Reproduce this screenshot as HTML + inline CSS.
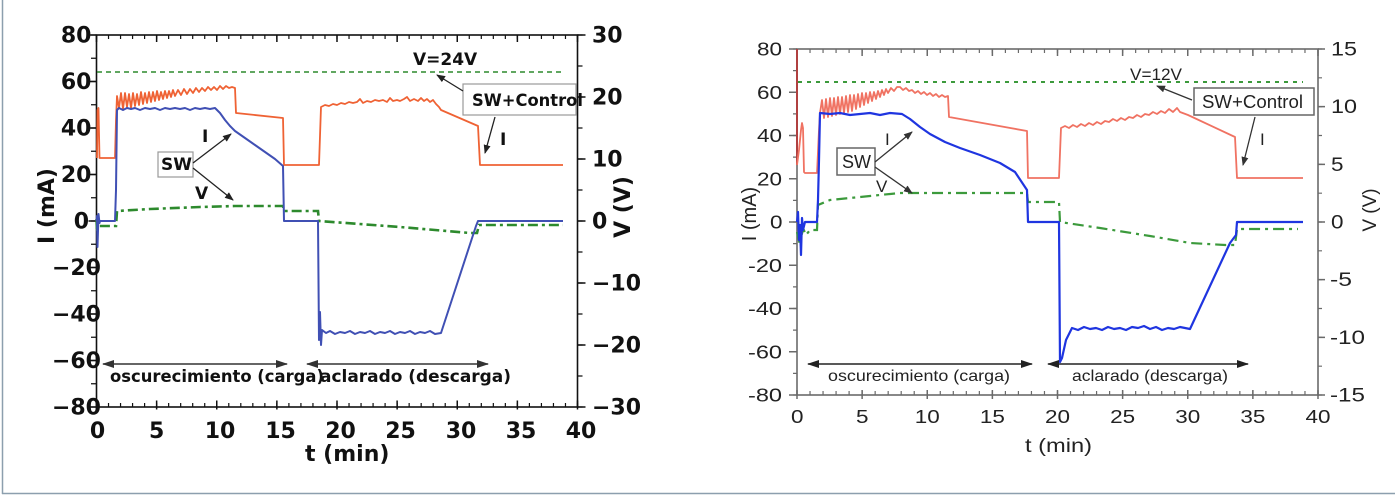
<!DOCTYPE html>
<html><head><meta charset="utf-8"><style>
html,body{margin:0;padding:0;background:#fff;}
svg{display:block;}
.b{font-family:"DejaVu Sans","Liberation Sans",sans-serif;font-weight:bold;fill:#111;}
.r{font-family:"Liberation Sans",Arial,sans-serif;fill:#222;}
</style></head><body>
<svg width="1395" height="495" viewBox="0 0 1395 495" xmlns="http://www.w3.org/2000/svg">
<defs>
<marker id="ah" markerUnits="userSpaceOnUse" markerWidth="9" markerHeight="7" refX="8" refY="3.5" orient="auto"><path d="M0,0 L9,3.5 L0,7 z" fill="#222"/></marker>
<marker id="ah2" markerUnits="userSpaceOnUse" markerWidth="12" markerHeight="8" refX="11" refY="4" orient="auto-start-reverse"><path d="M0,0 L12,4 L0,8 z" fill="#333"/></marker>
<marker id="ah3" markerUnits="userSpaceOnUse" markerWidth="9" markerHeight="7" refX="8" refY="3.5" orient="auto"><path d="M0,0 L9,3.5 L0,7 z" fill="#333"/></marker>
<marker id="ah4" markerUnits="userSpaceOnUse" markerWidth="12" markerHeight="8" refX="11" refY="4" orient="auto-start-reverse"><path d="M0,0 L12,4 L0,8 z" fill="#222"/></marker>
</defs>
<rect width="1395" height="495" fill="#fff"/>
<!-- page border -->
<line x1="2.5" y1="0" x2="2.5" y2="494" stroke="#8c9fae" stroke-width="1.5"/>
<line x1="2" y1="493.5" x2="1395" y2="493.5" stroke="#8c9fae" stroke-width="1.5"/>

<!-- ================= LEFT PLOT ================= -->
<g stroke="#111" fill="none">
<rect x="96.5" y="35" width="481" height="372" stroke-width="1.6"/>
<line x1="95.9" y1="37" x2="579" y2="37" stroke-width="4" stroke-dasharray="1.2 10.825"/>
<line x1="95.75" y1="38.5" x2="579" y2="38.5" stroke-width="7" stroke-dasharray="1.5 58.625"/>
<line x1="95.9" y1="405" x2="579" y2="405" stroke-width="4" stroke-dasharray="1.2 10.825"/>
<line x1="95.75" y1="405" x2="579" y2="405" stroke-width="9" stroke-dasharray="1.5 58.625"/>
<line x1="93.5" y1="34.4" x2="93.5" y2="408" stroke-width="5" stroke-dasharray="1.2 22.05"/>
<line x1="92.5" y1="34.25" x2="92.5" y2="408" stroke-width="8" stroke-dasharray="1.5 45"/>
<line x1="580" y1="34.4" x2="580" y2="408" stroke-width="5" stroke-dasharray="1.2 29.8"/>
<line x1="581.5" y1="34.25" x2="581.5" y2="408" stroke-width="8" stroke-dasharray="1.5 60.5"/>
</g>

<!-- left y labels -->
<g class="b" font-size="22" text-anchor="end">
<text x="91.5" y="42.5">80</text>
<text x="91.5" y="89">60</text>
<text x="91.5" y="135.5">40</text>
<text x="91.5" y="182">20</text>
<text x="89" y="228.5">0</text>
<text x="101" y="275">−20</text>
<text x="101" y="321.5">−40</text>
<text x="101" y="368">−60</text>
<text x="101" y="414.5">−80</text>
</g>
<g class="b" font-size="22">
<text x="592" y="42.5">30</text>
<text x="592" y="104.5">20</text>
<text x="592" y="166.5">10</text>
<text x="592" y="228.5">0</text>
<text x="592" y="290.5">−10</text>
<text x="592" y="352.5">−20</text>
<text x="592" y="414.5">−30</text>
</g>
<g class="b" font-size="22" text-anchor="middle">
<text x="97.5" y="438">0</text>
<text x="156.6" y="438">5</text>
<text x="220" y="438">10</text>
<text x="280.5" y="438">15</text>
<text x="340.5" y="438">20</text>
<text x="400.5" y="438">25</text>
<text x="461" y="438">30</text>
<text x="521" y="438">35</text>
<text x="581" y="438">40</text>
</g>
<text class="b" font-size="22" x="305" y="461">t (min)</text>
<text class="b" font-size="22" text-anchor="middle" transform="translate(54,206) rotate(-90)">I (mA)</text>
<text class="b" font-size="22" text-anchor="middle" transform="translate(630,207) rotate(-90)">V (V)</text>

<!-- left data -->
<path d="M97,72 L563,72" stroke="#2d8a2d" stroke-width="1.6" stroke-dasharray="5 4" fill="none"/>
<path d="M97,158 L97.5,110 L98.5,108 L99.5,158 L115,158 L116,120 L117,96 L119,108 L121,93 L123,109 L125,93 L127,107 L129,94 L131,108 L133,93 L135,106 L137,94 L139,105 L141,92 L143,104 L145,93 L147,103 L149,92 L151,102 L153,92 L155,101 L157,91 L159,100 L161,92 L163,99 L165,91 L167,98 L169,91 L171,97 L173,90 L175,96 L178,90 L181,95 L184,89 L187,94 L190,89 L193,93 L196,88 L199,92 L202,88 L205,91 L208,87 L211,90 L214,87 L217,90 L220,86 L223,89 L226,86 L229,88 L232,87 L235,88 L236,113 L283,118 L284,165 L319,165 L321,107 L325,105 L329,106 L333,104 L337,105 L341,103 L345,104 L349,102 L353,103 L357,102 L360,99 L363,103 L367,101 L371,102 L375,100 L379,101 L383,100 L387,102 L390,98 L393,101 L397,100 L400,101 L404,99 L407,97 L410,101 L414,99 L418,101 L421,98 L424,101 L427,99 L430,102 L433,100 L436,104 L439,107 L441,110 L478,126 L480,165 L563,165" stroke="#ef6234" stroke-width="1.8" fill="none" stroke-linejoin="round"/>
<path d="M96.5,219 L97,232 L98,226 L116,226 L117,211 L150,209 L200,207 L235,206 L283,206 L284,211 L318,211 L319,221 L400,227 L470,233 L477,233 L479,225 L563,225" stroke="#2d8a2d" stroke-width="2.6" stroke-dasharray="10 4 3 4" fill="none"/>
<path d="M96.5,221 L97,216 L97.5,247 L98.5,214 L99.5,223 L100,221 L115,221 L116,190 L117,110 L119,108 L123,110 L127,108 L131,109 L135,108 L140,110 L145,108 L150,109 L155,108 L160,110 L165,108 L170,109 L175,108 L180,109 L185,108 L190,110 L195,108 L200,109 L205,108 L210,109 L215,108 L220,113 L225,120 L230,126 L235,131 L245,138 L255,145 L265,152 L275,159 L283,166 L284,221 L318,221 L319,340 L320,312 L321,345 L322,330 L326,333 L330,331 L335,334 L340,332 L345,333 L350,331 L355,334 L360,332 L365,333 L370,331 L375,334 L380,332 L385,333 L390,331 L395,334 L400,332 L405,333 L410,331 L415,334 L420,332 L425,333 L430,331 L435,334 L441,333 L476,226 L478,221 L563,221" stroke="#4050b4" stroke-width="2" fill="none" stroke-linejoin="round"/>

<!-- left annotations -->
<text class="b" font-size="17" x="413" y="65">V=24V</text>
<rect x="463" y="84" width="113" height="31" fill="#fff" stroke="#999" stroke-width="1.2"/>
<text class="b" font-size="16.5" x="472" y="106" textLength="111" lengthAdjust="spacingAndGlyphs">SW+Control</text>
<line x1="463" y1="91" x2="437" y2="75" stroke="#222" stroke-width="1.3" marker-end="url(#ah)"/>
<line x1="495" y1="117" x2="485" y2="153" stroke="#222" stroke-width="1.3" marker-end="url(#ah)"/>
<text class="b" font-size="17" x="500" y="145">I</text>
<rect x="158" y="152" width="35" height="25" fill="#fff" stroke="#999" stroke-width="1.2"/>
<text class="b" font-size="17" x="161" y="170">SW</text>
<text class="b" font-size="17" x="202" y="142">I</text>
<text class="b" font-size="17" x="195" y="199">V</text>
<line x1="193" y1="163" x2="231" y2="134" stroke="#222" stroke-width="1.3" marker-end="url(#ah)"/>
<line x1="193" y1="168" x2="233" y2="200" stroke="#222" stroke-width="1.3" marker-end="url(#ah)"/>
<line x1="103" y1="364" x2="287" y2="364" stroke="#333" stroke-width="1.6" marker-start="url(#ah2)" marker-end="url(#ah2)"/>
<line x1="307" y1="364" x2="488" y2="364" stroke="#333" stroke-width="1.6" marker-start="url(#ah2)" marker-end="url(#ah2)"/>
<text class="b" font-size="16.5" x="110" y="382" textLength="214" lengthAdjust="spacingAndGlyphs">oscurecimiento (carga)</text>
<text class="b" font-size="16.5" x="320" y="382" textLength="191" lengthAdjust="spacingAndGlyphs">aclarado (descarga)</text>

<!-- ================= RIGHT PLOT ================= -->
<g stroke="#6a6a6a" fill="none">
<rect x="797" y="49" width="521" height="346" stroke-width="1.6"/>
<line x1="796.4" y1="51" x2="1319" y2="51" stroke-width="4" stroke-dasharray="1.2 11.825"/>
<line x1="796.25" y1="52.5" x2="1319" y2="52.5" stroke-width="7" stroke-dasharray="1.5 63.625"/>
<line x1="796.4" y1="393" x2="1319" y2="393" stroke-width="4" stroke-dasharray="1.2 11.825"/>
<line x1="796.25" y1="394.5" x2="1319" y2="394.5" stroke-width="9" stroke-dasharray="1.5 63.625"/>
<line x1="795" y1="48.4" x2="795" y2="396" stroke-width="4" stroke-dasharray="1.2 20.425"/>
<line x1="793" y1="48.25" x2="793" y2="396" stroke-width="8" stroke-dasharray="1.5 41.75"/>
<line x1="1320" y1="48.4" x2="1320" y2="396" stroke-width="4" stroke-dasharray="1.2 27.633"/>
<line x1="1321.5" y1="48.25" x2="1321.5" y2="396" stroke-width="7" stroke-dasharray="1.5 56.167"/>
</g>
<g class="r" font-size="18">
<text x="757" y="55.5" textLength="25" lengthAdjust="spacingAndGlyphs">80</text>
<text x="757" y="98.75" textLength="25" lengthAdjust="spacingAndGlyphs">60</text>
<text x="757" y="142" textLength="25" lengthAdjust="spacingAndGlyphs">40</text>
<text x="757" y="185.25" textLength="25" lengthAdjust="spacingAndGlyphs">20</text>
<text x="770" y="228.5" textLength="12.5" lengthAdjust="spacingAndGlyphs">0</text>
<text x="748" y="271.75" textLength="34" lengthAdjust="spacingAndGlyphs">-20</text>
<text x="748" y="315" textLength="34" lengthAdjust="spacingAndGlyphs">-40</text>
<text x="748" y="358.25" textLength="34" lengthAdjust="spacingAndGlyphs">-60</text>
<text x="748" y="401.5" textLength="34" lengthAdjust="spacingAndGlyphs">-80</text>
</g>
<g class="r" font-size="19">
<text x="1331" y="55.5" textLength="26" lengthAdjust="spacingAndGlyphs">15</text>
<text x="1331" y="113.2" textLength="26" lengthAdjust="spacingAndGlyphs">10</text>
<text x="1331" y="170.8" textLength="12.5" lengthAdjust="spacingAndGlyphs">5</text>
<text x="1331" y="228.5" textLength="12.5" lengthAdjust="spacingAndGlyphs">0</text>
<text x="1330" y="286.2" textLength="22" lengthAdjust="spacingAndGlyphs">-5</text>
<text x="1330" y="343.8" textLength="35" lengthAdjust="spacingAndGlyphs">-10</text>
<text x="1330" y="401.5" textLength="35" lengthAdjust="spacingAndGlyphs">-15</text>
</g>
<g class="r" font-size="18">
<text x="791" y="423" textLength="12.5" lengthAdjust="spacingAndGlyphs">0</text>
<text x="856" y="423" textLength="12.5" lengthAdjust="spacingAndGlyphs">5</text>
<text x="914.8" y="423" textLength="25" lengthAdjust="spacingAndGlyphs">10</text>
<text x="979.9" y="423" textLength="25" lengthAdjust="spacingAndGlyphs">15</text>
<text x="1045" y="423" textLength="25" lengthAdjust="spacingAndGlyphs">20</text>
<text x="1110.1" y="423" textLength="25" lengthAdjust="spacingAndGlyphs">25</text>
<text x="1175.3" y="423" textLength="25" lengthAdjust="spacingAndGlyphs">30</text>
<text x="1240.4" y="423" textLength="25" lengthAdjust="spacingAndGlyphs">35</text>
<text x="1305.5" y="423" textLength="25" lengthAdjust="spacingAndGlyphs">40</text>
</g>
<text class="r" font-size="19" x="1025" y="452" textLength="67" lengthAdjust="spacingAndGlyphs">t (min)</text>
<text class="r" font-size="20" text-anchor="middle" transform="translate(756,214) rotate(-90)">I (mA)</text>
<text class="r" font-size="19" text-anchor="middle" transform="translate(1376,210) rotate(-90)">V (V)</text>

<!-- right data -->
<path d="M798,82 L1303,82" stroke="#3c9a3c" stroke-width="2" stroke-dasharray="4 5" fill="none"/>
<path d="M797,49 L797,165" stroke="#b04040" stroke-width="2" fill="none"/>
<path d="M797,165 L799,150 L801,130 L802,123 L803,128 L804,172 L805,173 L817,173 L819,130 L820,113 L822,100 L824,118 L826,99 L828,117 L830,98 L832,116 L834,98 L836,115 L838,97 L840,114 L842,97 L844,113 L846,96 L848,112 L850,95 L852,111 L854,95 L856,109 L858,94 L860,107 L862,93 L864,105 L866,93 L868,103 L870,92 L872,101 L874,92 L876,99 L878,91 L880,97 L882,90 L884,95 L886,89 L888,93 L891,88 L894,91 L897,87 L900,87 L903,90 L906,88 L909,91 L912,90 L915,93 L918,91 L921,94 L924,92 L927,95 L930,93 L933,96 L936,94 L939,97 L942,95 L945,97 L948,96 L949,117 L1027,131 L1028,178 L1059,178 L1061,128 L1065,126 L1069,128 L1073,125 L1077,127 L1081,124 L1085,126 L1089,123 L1093,125 L1097,122 L1101,124 L1105,121 L1109,122 L1113,119 L1117,121 L1121,118 L1125,120 L1129,117 L1133,118 L1137,115 L1141,117 L1145,114 L1149,115 L1153,112 L1157,114 L1161,111 L1165,113 L1169,109 L1173,112 L1177,108 L1180,112 L1188,115 L1235,137 L1237,178 L1303,178" stroke="#f07262" stroke-width="1.8" fill="none" stroke-linejoin="round"/>
<path d="M797,232 L800,245 L803,228 L806,235 L810,230 L817,230 L818,205 L830,200 L850,198 L870,196 L900,193 L1027,193 L1028,202 L1059,202 L1060,222 L1100,228 L1150,236 L1190,243 L1225,245 L1235,245 L1237,229 L1298,229" stroke="#3c9a3c" stroke-width="2.2" stroke-dasharray="11 5 3 5" fill="none"/>
<path d="M797,222 L798,212 L799,240 L800,225 L801,255 L802,218 L803,230 L805,222 L817,222 L818,200 L819,160 L820,113 L830,114 L840,113 L850,115 L860,114 L870,113 L880,115 L890,113 L902,114 L910,119 L920,127 L930,134 L945,142 L960,148 L980,155 L1000,163 L1015,172 L1027,190 L1028,222 L1059,222 L1060,362 L1062,358 L1066,340 L1072,328 L1078,330 L1084,327 L1090,329 L1096,328 L1102,330 L1108,327 L1114,329 L1120,328 L1126,330 L1132,327 L1138,328 L1144,326 L1150,329 L1156,327 L1162,330 L1168,328 L1174,329 L1180,327 L1190,329 L1230,243 L1236,235 L1237,222 L1303,222" stroke="#1f35e0" stroke-width="2.2" fill="none" stroke-linejoin="round"/>

<!-- right annotations -->
<text class="r" font-size="17" x="1130" y="80" fill="#444" textLength="52" lengthAdjust="spacingAndGlyphs">V=12V</text>
<rect x="1194" y="88" width="120" height="27" fill="#fff" stroke="#666" stroke-width="1.5"/>
<text class="r" font-size="18" x="1202" y="108" textLength="101" lengthAdjust="spacingAndGlyphs">SW+Control</text>
<line x1="1192" y1="100" x2="1157" y2="86" stroke="#333" stroke-width="1.3" marker-end="url(#ah3)"/>
<line x1="1255" y1="117" x2="1243" y2="165" stroke="#333" stroke-width="1.3" marker-end="url(#ah3)"/>
<text class="r" font-size="17" x="1260" y="145" fill="#444">I</text>
<rect x="837" y="148" width="38" height="27" fill="#fff" stroke="#666" stroke-width="1.5"/>
<text class="r" font-size="18" x="842" y="168" textLength="29" lengthAdjust="spacingAndGlyphs">SW</text>
<text class="r" font-size="17" x="885" y="145" fill="#444">I</text>
<text class="r" font-size="17" x="876" y="192" fill="#444">V</text>
<line x1="875" y1="162" x2="912" y2="132" stroke="#333" stroke-width="1.3" marker-end="url(#ah3)"/>
<line x1="875" y1="167" x2="912" y2="193" stroke="#333" stroke-width="1.3" marker-end="url(#ah3)"/>
<line x1="808" y1="364" x2="1032" y2="364" stroke="#222" stroke-width="1.5" marker-start="url(#ah4)" marker-end="url(#ah4)"/>
<line x1="1048" y1="364" x2="1248" y2="364" stroke="#222" stroke-width="1.5" marker-start="url(#ah4)" marker-end="url(#ah4)"/>
<text class="r" font-size="16" x="828" y="381" fill="#555" textLength="182" lengthAdjust="spacingAndGlyphs">oscurecimiento (carga)</text>
<text class="r" font-size="16" x="1072" y="381" fill="#555" textLength="156" lengthAdjust="spacingAndGlyphs">aclarado (descarga)</text>
</svg>
</body></html>
